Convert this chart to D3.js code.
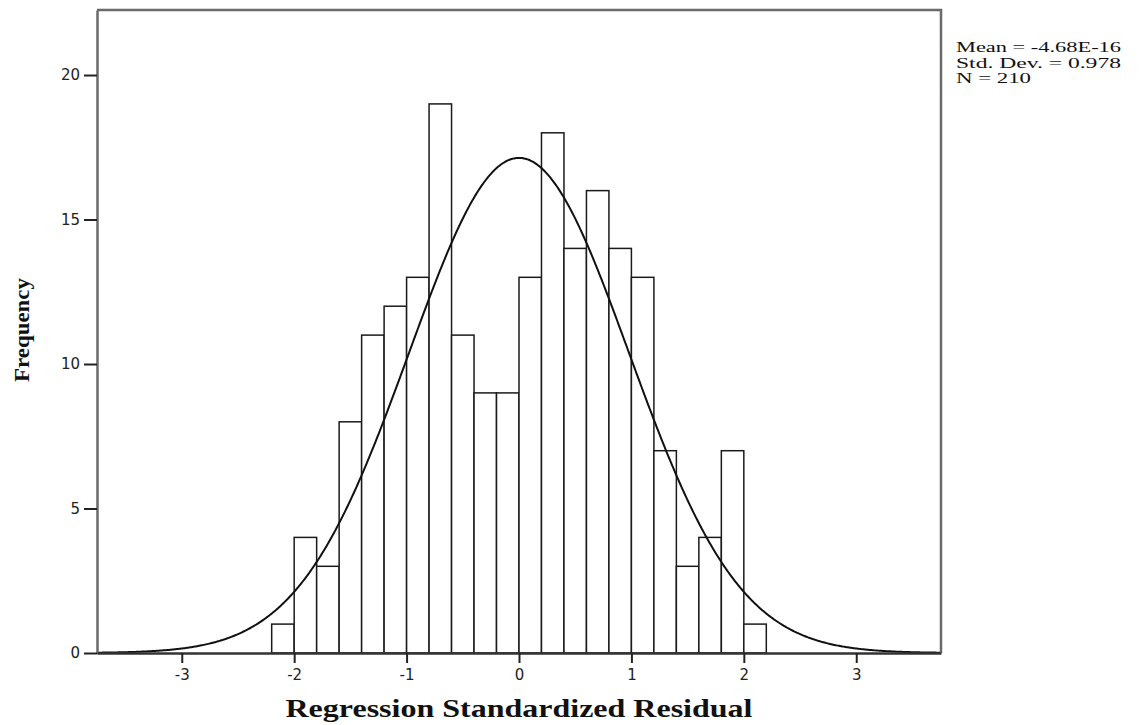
<!DOCTYPE html>
<html>
  <head>
    <meta charset="utf-8">
    <title>residual histogram</title>
    <style>
      body { margin: 0; background: #fff; }
      .tick text { font: 15px "DejaVu Sans", sans-serif; fill: #222; }
      .bar { fill: #fff; stroke: #1a1a1a; stroke-width: 1.5; }
    </style>
    <script src="https://d3js.org/d3.v7.min.js"></script>
  </head>
  <body>
    <svg class="chart"></svg>
    <script>
// bins of the regression standardized residual (lower edges, width 0.2)
var binLower = [-2.2, -2.0, -1.8, -1.6, -1.4, -1.2, -1.0, -0.8, -0.6, -0.4, -0.2,
                0.0, 0.2, 0.4, 0.6, 0.8, 1.0, 1.2, 1.4, 1.6, 1.8, 2.0];
var binWidth = 0.2;
var counts = [1, 4, 3, 8, 11, 12, 13, 19, 11, 9, 9,
              13, 18, 14, 16, 14, 13, 7, 3, 4, 7, 1];
var xTicks = [-3, -2, -1, 0, 1, 2, 3];
var yTicks = [0, 5, 10, 15, 20];
var stats = { mean: -4.68e-16, sd: 0.978, n: 210 };
var statLines = ["Mean = -4.68E-16", "Std. Dev. = 0.978", "N = 210"];

var width = 1140, height = 725;
var pL = 97, pR = 941, pT = 10, pB = 653;

var svg = d3.select(".chart")
    .attr("width", width)
    .attr("height", height);

var x = d3.scaleLinear().domain([-3.754, 3.754]).range([pL, pR]);
var y = d3.scaleLinear().domain([0, 22.25]).range([pB, pT]);

// bars
svg.selectAll("rect.bar")
    .data(counts)
  .enter().append("rect")
    .attr("class", "bar")
    .attr("x", function(d, i) { return x(binLower[i]); })
    .attr("y", function(d) { return y(d); })
    .attr("width", function(d, i) { return x(binLower[i] + binWidth) - x(binLower[i]); })
    .attr("height", function(d) { return y(0) - y(d); });

// fitted normal curve
var k = stats.n * binWidth / (stats.sd * Math.sqrt(2 * Math.PI));
var curvePts = d3.range(-3.754, 3.7541, 0.01).map(function(v) {
  var z = (v - stats.mean) / stats.sd;
  return [v, k * Math.exp(-0.5 * z * z)];
});
svg.append("path")
    .datum(curvePts)
    .attr("fill", "none")
    .attr("stroke", "#111")
    .attr("stroke-width", 2)
    .attr("d", d3.line().x(function(d) { return x(d[0]); }).y(function(d) { return y(d[1]); }));

// frame (top/right gray)
svg.append("path")
    .attr("d", "M" + pL + "," + pT + "H" + pR + "V" + pB)
    .attr("fill", "none")
    .attr("stroke", "#6a6a6a")
    .attr("stroke-width", 2.5);

// axes
var xAxis = d3.axisBottom(x).tickValues(xTicks).tickSize(10).tickPadding(6)
    .tickSizeOuter(0).tickFormat(d3.format("d"));
var yAxis = d3.axisLeft(y).tickValues(yTicks).tickSize(13).tickPadding(4)
    .tickSizeOuter(0);

var gy = svg.append("g")
    .attr("transform", "translate(" + pL + ",0)")
    .call(yAxis);
gy.select(".domain").attr("stroke", "#6a6a6a").attr("stroke-width", 2.5);
gy.selectAll(".tick line").attr("stroke", "#222").attr("stroke-width", 2);

var gx = svg.append("g")
    .attr("transform", "translate(0," + pB + ")")
    .call(xAxis);
gx.select(".domain").attr("stroke", "#333").attr("stroke-width", 2.5);
gx.selectAll(".tick line").attr("stroke", "#222").attr("stroke-width", 2);
gx.selectAll(".tick text").text(function(d) { return d < 0 ? "-" + Math.abs(d) : d; });

// axis titles
svg.append("text")
    .attr("x", (pL + pR) / 2)
    .attr("y", 717)
    .attr("text-anchor", "middle")
    .attr("textLength", 467)
    .attr("lengthAdjust", "spacingAndGlyphs")
    .style("font", "bold 25px 'Liberation Serif', serif")
    .style("fill", "#111")
    .text("Regression Standardized Residual");

svg.append("text")
    .attr("transform", "translate(29,330) rotate(-90)")
    .attr("text-anchor", "middle")
    .attr("textLength", 104)
    .attr("lengthAdjust", "spacingAndGlyphs")
    .style("font", "bold 21px 'Liberation Serif', serif")
    .style("fill", "#111")
    .text("Frequency");

// stats box text
svg.selectAll("text.stat")
    .data(statLines)
  .enter().append("text")
    .attr("class", "stat")
    .attr("x", 956)
    .attr("y", function(d, i) { return 52 + i * 15.7; })
    .attr("textLength", function(d, i) { return [165, 165, 75][i]; })
    .attr("lengthAdjust", "spacingAndGlyphs")
    .style("font", "15px 'Liberation Serif', serif")
    .style("fill", "#111")
    .text(function(d) { return d; });
    </script>
  </body>
</html>
